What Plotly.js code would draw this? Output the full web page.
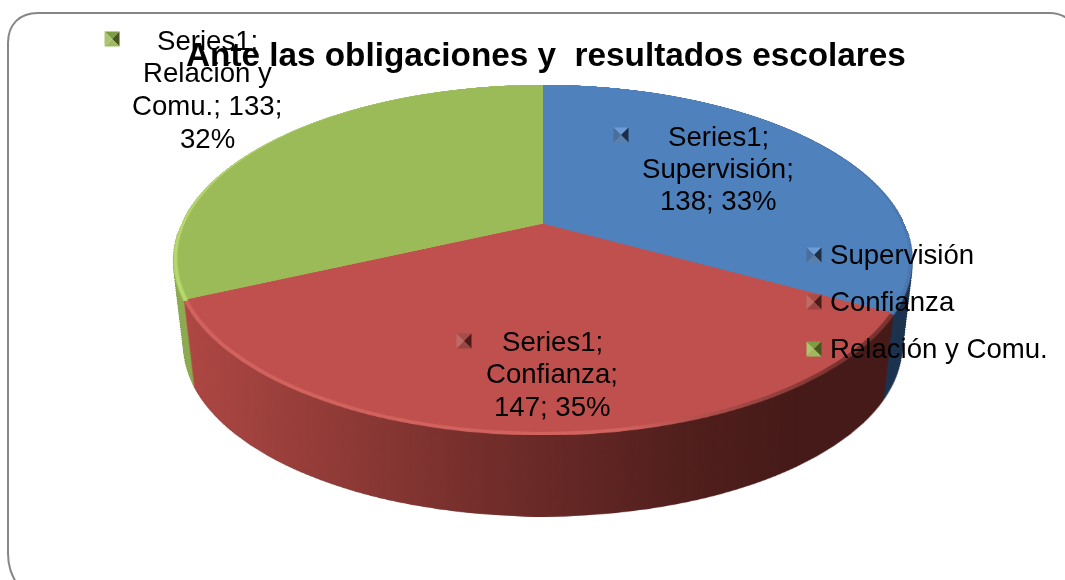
<!DOCTYPE html>
<html><head><meta charset="utf-8">
<script src="https://cdn.plot.ly/plotly-3.0.1.min.js"></script>
<style>
html,body{margin:0;padding:0;background:#fff}
#stage{position:relative;width:1065px;height:580px;overflow:hidden;background:#fff}
.group{position:absolute;left:0;top:0;width:1065px;height:580px}
.layer{position:absolute;left:0;top:0;width:1065px;height:580px;transform-origin:543px 225px}
.pie{position:absolute;left:181px;top:-137px;width:724px;height:724px;
     transform:perspective(1601px) rotateX(62.3deg);transform-origin:50% 50%}
#over{position:absolute;left:0;top:0;width:1065px;height:580px}
</style></head>
<body><div id="stage"></div>
<script>
const titleText = "Ante las obligaciones y  resultados escolares";
const seriesName = "Series1";
const categories = ["Supervisión", "Confianza", "Relación y Comu."];
const values = [138, 147, 133];
const percents = [33, 35, 32];
const faceColors = ["#4F81BD", "#C0504D", "#9BBB59"];
const rimBaseColors = ["#4A79B2", "#7A3330", "#9BBB59"];
const rimColors = ["#4A79B2", "#D2625E", "#B6D86C"];
const wallLightColors = ["#3F6A9E", "#AD4743", "#8DAA50"];
const wallDarkColors = ["#1B324F", "#451A18", "#5A6E32"];
const keyTop = ["#6C9BD6", "#A84C49", "#7F9C45"];
const keyLeft = ["#4A6F9C", "#BE6A67", "#A9C56F"];
const keyBottom = ["#5B7FA8", "#9A4542", "#9DBB5E"];
const keyRight = ["#1D2E45", "#4A1B19", "#46561F"];

const labelLines = [
  [seriesName + ";", categories[0] + ";", values[0] + "; " + percents[0] + "%"],
  [seriesName + ";", categories[1] + ";", values[1] + "; " + percents[1] + "%"],
  [seriesName + ";", "Relación y", "Comu.; " + values[2] + ";", percents[2] + "%"]
];
const labelCenterX = [718, 552, 207];
const labelTopY = [136, 341, 40];
const labelStep = [32, 32.5, 32.7];
const labelKeyX = [621, 464, 112];
const labelKeyY = [135, 341, 39];
const legendKeyX = 814, legendTextX = 830;
const legendY = [254, 301, 348];

const stage = document.getElementById("stage");
function mk(cls, parent){const d=document.createElement("div");d.className=cls;(parent||stage).appendChild(d);return d;}

async function piePlot(colors, parent){
  const host = mk("pie", parent);
  await Plotly.newPlot(host, [{
    type:"pie", values:values, labels:categories, sort:false, direction:"clockwise", rotation:0,
    textinfo:"none", hoverinfo:"skip", showlegend:false,
    marker:{colors:colors, line:{width:0}}, domain:{x:[0,1],y:[0,1]}
  }], {width:724, height:724, margin:{l:0,r:0,t:0,b:0}, paper_bgcolor:"rgba(0,0,0,0)", plot_bgcolor:"rgba(0,0,0,0)", showlegend:false},
  {displayModeBar:false, staticPlot:true});
  return host;
}

async function wall(colors, mask){
  const g = mk("group");
  if(mask){g.style.webkitMaskImage=mask;g.style.maskImage=mask;}
  const first = mk("layer", g);
  const src = await piePlot(colors, first);
  const depth = 87, finalScale = 0.972;
  for(let k=depth;k>=2;k-=2){
    const l = mk("layer");
    l.style.transform = "translateY("+k+"px) scale("+(1-(1-finalScale)*k/depth)+")";
    l.appendChild(src.cloneNode(true));
    g.insertBefore(l, first);
  }
  return g;
}

function keyShapes(cx, cy, i){
  const h=7.5, m=[cx,cy];
  const tl=[cx-h,cy-h], tr=[cx+h,cy-h], br=[cx+h,cy+h], bl=[cx-h,cy+h];
  const tri=(a,b,c)=>({type:"path",xref:"x",yref:"y",layer:"above",line:{width:0},fillcolor:c,
    path:"M"+a[0]+","+a[1]+" L"+b[0]+","+b[1]+" L"+m[0]+","+m[1]+" Z"});
  return [tri(tl,tr,keyTop[i]),tri(tr,br,keyRight[i]),tri(br,bl,keyBottom[i]),tri(bl,tl,keyLeft[i])];
}

(async function(){
  await wall(wallDarkColors, null);
  await wall(wallLightColors, "linear-gradient(to right, #000 0px, #000 190px, rgba(0,0,0,.45) 480px, rgba(0,0,0,.12) 680px, rgba(0,0,0,0) 800px)");

  await piePlot(rimBaseColors, mk("layer"));
  const rimG = mk("group");
  const m2 = "linear-gradient(to right, #000 0px, #000 620px, rgba(0,0,0,0) 840px)";
  rimG.style.webkitMaskImage=m2; rimG.style.maskImage=m2;
  await piePlot(rimColors, mk("layer", rimG));

  const top = mk("layer");
  top.style.transform = "translateY(-1.4px) scale(0.99)";
  await piePlot(faceColors, top);

  const ax=[];
  const lineFont={family:"Liberation Sans, Arial, sans-serif", size:27.6, color:"#000"};
  labelLines.forEach((lines,i)=>lines.forEach((t,j)=>{
    ax.push({xref:"x",yref:"y",x:labelCenterX[i],y:labelTopY[i]+j*labelStep[i],text:t,showarrow:false,xanchor:"center",yanchor:"middle",font:lineFont});
  }));
  categories.forEach((c,i)=>ax.push({xref:"x",yref:"y",x:legendTextX,y:legendY[i],text:c,showarrow:false,xanchor:"left",yanchor:"middle",xshift:-2,font:lineFont}));
  ax.push({xref:"x",yref:"y",x:546,y:54,text:titleText,showarrow:false,xanchor:"center",yanchor:"middle",font:{family:"Liberation Sans, Arial, sans-serif",size:33.3,color:"#000",weight:"bold"}});

  const shapes=[{type:"path",xref:"x",yref:"y",layer:"below",line:{color:"#868686",width:2},
    path:"M18,586 C11,574 8,566 8,553 L8,43 C8,24 20,13 38,13 L1050,13 C1058,13 1064,15 1072,22"}];
  categories.forEach((c,i)=>{
    shapes.push(...keyShapes(labelKeyX[i],labelKeyY[i],i));
    shapes.push(...keyShapes(legendKeyX,legendY[i]+1,i));
  });
  await Plotly.newPlot(mk("over"), [], {
    width:1065,height:580,margin:{l:0,r:0,t:0,b:0},paper_bgcolor:"rgba(0,0,0,0)",plot_bgcolor:"rgba(0,0,0,0)",
    xaxis:{range:[0,1065],visible:false,fixedrange:true},yaxis:{range:[580,0],visible:false,fixedrange:true},
    showlegend:false,annotations:ax,shapes:shapes
  },{displayModeBar:false,staticPlot:true});
})();
</script></body></html>
